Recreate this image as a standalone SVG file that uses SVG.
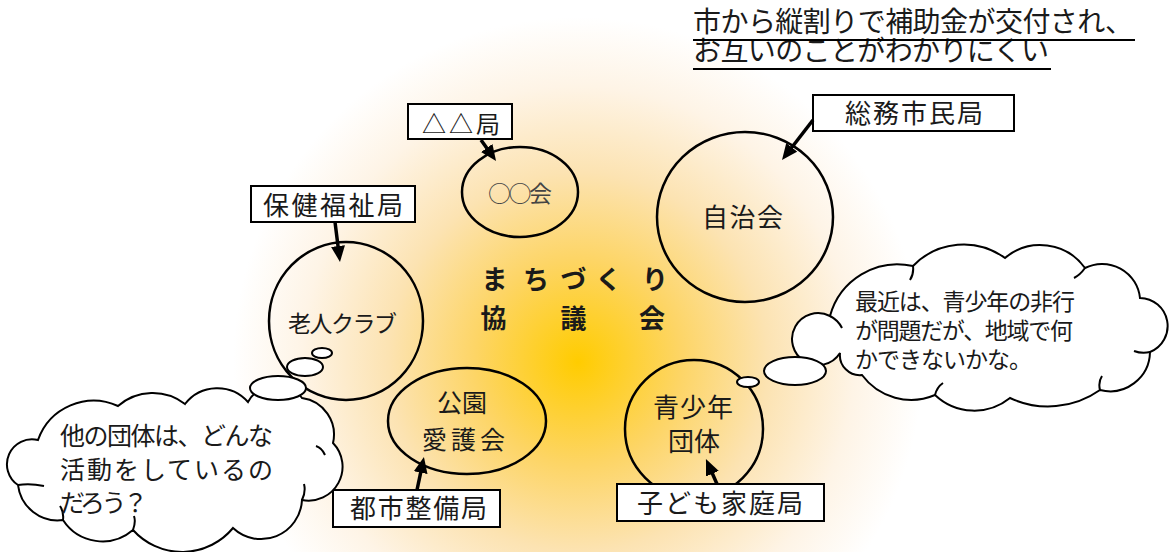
<svg xmlns="http://www.w3.org/2000/svg" width="1169" height="552" viewBox="0 0 1169 552">
<defs>
<radialGradient id="bg" gradientUnits="userSpaceOnUse" cx="578" cy="362" r="345">
<stop offset="0" stop-color="#FFCC00"/>
<stop offset="0.3" stop-color="#FDD566"/>
<stop offset="0.55" stop-color="#FCE3B2"/>
<stop offset="0.8" stop-color="#FEF4E6"/>
<stop offset="1" stop-color="#FFFFFF"/>
</radialGradient>
<marker id="ah" markerUnits="userSpaceOnUse" markerWidth="18" markerHeight="14" refX="8" refY="7" orient="auto">
<path d="M0,0 L16,7 L0,14 z" fill="#000"/>
</marker>
<style>
text{font-family:"Noto Sans CJK JP","Noto Sans",sans-serif;fill:#1a1a1a}
.c{fill:none;stroke:#000;stroke-width:2.5}
.b{fill:#fff;stroke:#000;stroke-width:2}
.cl{fill:#fff;stroke:#000;stroke-width:2}
.in{fill:none;stroke:#000;stroke-width:2}
.bt{font-size:26px}
.conn line{stroke:#000;stroke-width:3.5;marker-end:url(#ah)}
</style>
</defs>
<rect x="0" y="0" width="1169" height="552" fill="url(#bg)"/>

<g id="title">
<text x="693" y="32" font-size="28" textLength="440" lengthAdjust="spacing">市から縦割りで補助金が交付され、</text>
<text x="693" y="61" font-size="28" textLength="356" lengthAdjust="spacing">お互いのことがわかりにくい</text>
<line x1="693" y1="40" x2="1135" y2="40" stroke="#000" stroke-width="2"/>
<line x1="693" y1="69" x2="1051" y2="69" stroke="#000" stroke-width="2"/>
</g>

<g id="center-label" font-weight="bold" font-size="26" text-anchor="middle">
<text x="494.5 536 573.5 608.5 655" y="289">まちづくり</text>
<text x="493.5 573.5 652" y="328">協議会</text>
</g>

<g id="node-oo">
<ellipse class="c" cx="520" cy="192" rx="58" ry="45"/>
<text x="520" y="202" font-size="23" text-anchor="middle" textLength="64" style="fill:#444">○○会</text>
</g>
<g id="node-jichikai">
<ellipse class="c" cx="745" cy="217" rx="88" ry="85"/>
<text x="742.5" y="227" font-size="26" text-anchor="middle" textLength="81">自治会</text>
</g>
<g id="node-roujin">
<ellipse class="c" cx="346" cy="321" rx="77" ry="79"/>
<text x="342.5" y="332" font-size="23" text-anchor="middle" textLength="109">老人クラブ</text>
</g>
<g id="node-kouen">
<ellipse class="c" cx="467" cy="421" rx="79" ry="53"/>
<text x="462" y="412" font-size="25" text-anchor="middle" textLength="50">公園</text>
<text x="463.5" y="449" font-size="25" text-anchor="middle" textLength="83">愛護会</text>
</g>
<g id="node-seishonen">
<ellipse class="c" cx="694" cy="429" rx="69" ry="69"/>
<text x="693" y="417" font-size="26" text-anchor="middle" textLength="80">青少年</text>
<text x="694" y="451" font-size="26" text-anchor="middle" textLength="52">団体</text>
</g>

<g id="box-sankaku">
<rect class="b" x="408" y="104" width="104" height="35"/>
<text x="461" y="133" font-size="24" text-anchor="middle" textLength="78">△△局</text>
</g>
<g id="box-soumu">
<rect class="b" x="813" y="95" width="201" height="36"/>
<text class="bt" x="914" y="123" text-anchor="middle" textLength="138">総務市民局</text>
</g>
<g id="box-hoken">
<rect class="b" x="251" y="186" width="164" height="36"/>
<text class="bt" x="333" y="215" text-anchor="middle" textLength="140">保健福祉局</text>
</g>
<g id="box-toshi">
<rect class="b" x="333" y="490" width="167" height="37"/>
<text class="bt" x="418.5" y="518" text-anchor="middle" textLength="137">都市整備局</text>
</g>
<g id="box-kodomo">
<rect class="b" x="617" y="484" width="207" height="37"/>
<text class="bt" x="720" y="513" text-anchor="middle" textLength="166">子ども家庭局</text>
</g>

<g id="connectors" class="conn">
<line x1="481" y1="140" x2="491.4" y2="154.5"/>
<line x1="813" y1="120" x2="786.9" y2="153.7"/>
<line x1="335" y1="222" x2="339" y2="254"/>
<line x1="417" y1="490" x2="422.3" y2="464.8"/>
<line x1="717" y1="484" x2="709.2" y2="466.4"/>
</g>

<g id="cloud-left">
<path class="cl" d="M38,440 A59,59 0 0 1 118,406 A53,53 0 0 1 185,404 A41,41 0 0 1 248,402 A32,32 0 0 1 302,398 A37,37 0 0 1 333,443 A34,34 0 0 1 302,500 A41,41 0 0 1 233,528 A66,66 0 0 1 133,530 A47,47 0 0 1 63,520 A40,40 0 0 1 18,485 A25,25 0 0 1 38,440 Z"/>
<path class="in" d="M18,485 Q30,483 44,486 M63,520 Q64,512 60,506 M133,530 Q136,522 134,516 M302,500 Q306,492 304,484 M325,455 Q322,448 316,446"/>
<ellipse class="cl" cx="278" cy="388" rx="28" ry="12"/>
<ellipse class="cl" cx="305" cy="367" rx="18" ry="9"/>
<ellipse class="cl" cx="322" cy="353" rx="10" ry="5"/>
<text x="60" y="445" font-size="25" textLength="213">他の団体は、どんな</text>
<text x="60" y="479" font-size="25" textLength="213">活動をしているの</text>
<text x="60" y="512" font-size="25" textLength="88">だろう？</text>
</g>

<g id="cloud-right">
<path class="cl" d="M830,316 A70,70 0 0 1 913,266 A70,70 0 0 1 1005,258 A55,55 0 0 1 1085,268 A38,38 0 0 1 1140,298 A28,28 0 0 1 1150,352 A40,40 0 0 1 1100,390 A90,90 0 0 1 1010,398 A57,57 0 0 1 935,395 A61,61 0 0 1 862,375 A20,20 0 0 1 840,353 A26,26 0 1 1 830,316 Z"/>
<path class="in" d="M830,316 Q838,320 842,328 M913,266 Q914,274 910,280 M1085,268 Q1080,275 1074,278 M1150,352 Q1142,354 1134,351 M1100,390 Q1098,382 1102,376 M935,395 Q937,387 943,383"/>
<ellipse class="cl" cx="795" cy="371" rx="31" ry="14"/>
<ellipse class="cl" cx="748" cy="382" rx="11" ry="5"/>
<text x="855" y="310" font-size="23" textLength="220">最近は、青少年の非行</text>
<text x="855" y="339" font-size="23" textLength="218">が問題だが、地域で何</text>
<text x="855" y="368" font-size="23" textLength="177">かできないかな。</text>
</g>
</svg>
